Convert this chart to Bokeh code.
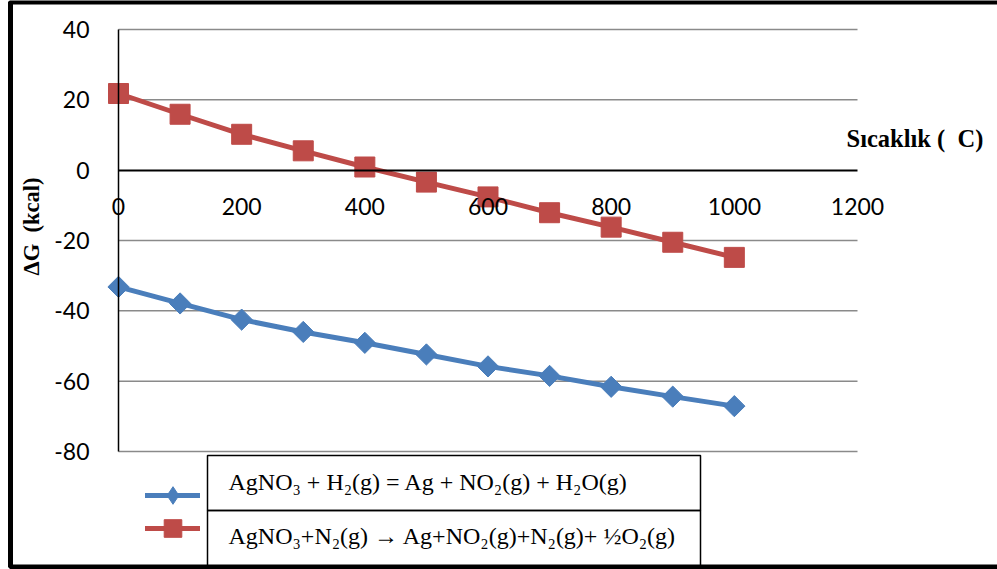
import math
from bokeh.plotting import figure
from bokeh.models import (Range1d, LinearAxis, FixedTicker, Label, BoxAnnotation,
                          Legend, LegendItem, PrintfTickFormatter)
from bokeh.core.properties import value
from bokeh.embed import file_html
from bokeh.resources import INLINE

# ---- data ----
temps = [0, 100, 200, 300, 400, 500, 600, 700, 800, 900, 1000]
dg_h2 = [-33.2, -37.9, -42.5, -46.0, -49.1, -52.4, -55.8, -58.5, -61.6, -64.4, -67.1]
dg_n2 = [21.8, 15.9, 10.2, 5.5, 0.9, -3.4, -7.6, -12.1, -16.2, -20.5, -24.8]
x_ticks = [0, 200, 400, 600, 800, 1000, 1200]
y_ticks = [-80, -60, -40, -20, 0, 20, 40]
label_h2 = "AgNO\u2083 + H\u2082(g) = Ag + NO\u2082(g) + H\u2082O(g)"
label_n2 = "AgNO\u2083+N\u2082(g) \u2192 Ag+NO\u2082(g)+N\u2082(g)+ \u00bdO\u2082(g)"
x_title = "Sıcaklık (\u00a0\u00a0C)"
y_title = "ΔG\u00a0 (kcal)"

BLUE = "#4A7EBB"
RED = "#BE4B48"
W, H = 997, 569
# plot area (on the canvas) of the reference
PL, PR, PT, PB = 118, 857, 29, 451

# the frame covers the whole canvas; extend the ranges so the plot area lands at PL..PR / PT..PB
xmin, xmax = x_ticks[0], x_ticks[-1]
ymin, ymax = y_ticks[0], y_ticks[-1]
kx = (PR - PL) / (xmax - xmin)
ky = (PB - PT) / (ymax - ymin)
x_range = Range1d(xmin - PL / kx, xmax + (W - PR) / kx)
y_range = Range1d(ymin - (H - PB) / ky, ymax + PT / ky)


def sx(cx):
    return cx


def sy(cy):
    return H - cy


p = figure(width=W, height=H, output_backend="svg", toolbar_location=None,
           x_range=x_range, y_range=y_range,
           x_axis_type=None, y_axis_type=None,
           min_border=0)
p.outline_line_color = None
p.background_fill_color = "white"
p.border_fill_color = "white"

# horizontal gridlines across the plot area
grid_y = [t for t in y_ticks if t != 0]
p.segment(x0=[xmin] * len(grid_y), x1=[xmax] * len(grid_y), y0=grid_y, y1=grid_y,
          line_color="#8A8A8A", line_width=1.5)

tick_font = "Lato"
yaxis = LinearAxis(ticker=FixedTicker(ticks=y_ticks), fixed_location=0,
                   bounds=(ymin, ymax), formatter=PrintfTickFormatter(format="%d"))
yaxis.axis_line_color = "black"
yaxis.axis_line_width = 1.5
yaxis.major_tick_line_color = None
yaxis.minor_tick_line_color = None
yaxis.major_label_text_font = tick_font
yaxis.major_label_text_font_size = "23px"
yaxis.major_label_text_color = "black"
yaxis.major_label_standoff = 23
p.add_layout(yaxis, "left")

xaxis = LinearAxis(ticker=FixedTicker(ticks=x_ticks), fixed_location=0,
                   bounds=(xmin, xmax), formatter=PrintfTickFormatter(format="%d"))
xaxis.axis_line_color = "black"
xaxis.axis_line_width = 2
xaxis.major_tick_line_color = None
xaxis.minor_tick_line_color = None
xaxis.major_label_text_font = tick_font
xaxis.major_label_text_font_size = "23px"
xaxis.major_label_text_color = "black"
xaxis.major_label_standoff = 22
p.add_layout(xaxis, "below")

r_h2_line = p.line(temps, dg_h2, line_color=BLUE, line_width=5,
                   line_cap="round", line_join="round")
r_h2_pts = p.scatter(temps, dg_h2, marker="square", angle=math.pi / 4, size=15,
                     fill_color=BLUE, line_color=BLUE)
r_n2_line = p.line(temps, dg_n2, line_color=RED, line_width=5,
                   line_cap="round", line_join="round")
r_n2_pts = p.scatter(temps, dg_n2, marker="square", size=20,
                     fill_color=RED, line_color=RED)
# legend-only diamond (legend samples ignore the marker angle); its one point is NaN, so not drawn
r_h2_key = p.scatter(x=[float("nan")], y=[float("nan")], marker="diamond",
                     fill_color=BLUE, line_color=BLUE)

# legend markers (outside the table, as in the reference)
gh = 44
for rends, cy in [([r_h2_line, r_h2_key], 495), ([r_n2_line, r_n2_pts], 528)]:
    lg = Legend(items=[LegendItem(label=value(""), renderers=rends)],
                location=(sx(145), sy(cy + gh / 2)), orientation="vertical",
                glyph_width=55, glyph_height=gh, label_height=gh, label_width=0,
                label_standoff=0, spacing=0, padding=0, margin=0,
                border_line_color=None, background_fill_alpha=0)
    p.add_layout(lg, "center")

# legend table
for top, bottom in [(455, 510), (510, 566)]:
    p.add_layout(BoxAnnotation(left=sx(207), right=sx(700), top=sy(top), bottom=sy(bottom),
                               left_units="screen", right_units="screen",
                               top_units="screen", bottom_units="screen",
                               fill_alpha=0, line_color="black", line_alpha=1,
                               line_width=1.5))

serif = "Liberation Serif"
for txt, cy in [(label_h2, 481), (label_n2, 535)]:
    p.add_layout(Label(x=sx(228), y=sy(cy), x_units="screen", y_units="screen", text=txt,
                       text_font=serif, text_font_size="24px", text_color="black",
                       text_baseline="middle", text_align="left"))

p.add_layout(Label(x=sx(846), y=sy(138), x_units="screen", y_units="screen", text=x_title,
                   text_font=serif, text_font_size="24.5px", text_font_style="bold",
                   text_color="black", text_baseline="middle", text_align="left"))
p.add_layout(Label(x=sx(31), y=sy(226), x_units="screen", y_units="screen", text=y_title,
                   angle=math.pi / 2,
                   text_font=serif, text_font_size="22.5px", text_font_style="bold",
                   text_color="black", text_baseline="middle", text_align="center"))

# outer frame of the picture
p.add_layout(BoxAnnotation(left=sx(10), right=sx(1010), top=sy(1.5), bottom=sy(566.5),
                           left_units="screen", right_units="screen",
                           top_units="screen", bottom_units="screen",
                           fill_alpha=0, line_color="black", line_alpha=1, line_width=5))

open("out.html", "w").write(file_html(p, INLINE))
